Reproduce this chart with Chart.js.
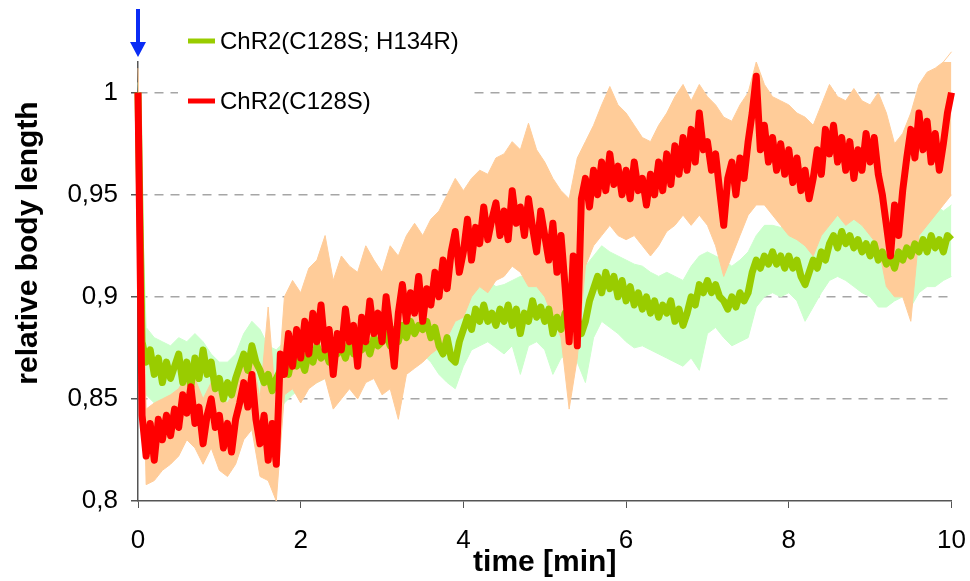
<!DOCTYPE html>
<html>
<head>
<meta charset="utf-8">
<script src="https://cdn.jsdelivr.net/npm/chart.js@4/dist/chart.umd.min.js"></script>
<style>
  html, body { margin: 0; padding: 0; background: #fff; }
  #wrap { width: 970px; height: 581px; }
</style>
</head>
<body>
<div id="wrap"><canvas id="bodyChart" width="970" height="581"></canvas></div>
<script>
const seriesNames = ['ChR2(C128S; H134R)', 'ChR2(C128S)'];
const xTicks = [0, 2, 4, 6, 8, 10];
const yTicks = [0.8, 0.85, 0.9, 0.95, 1];

// mean traces, one value every 0.05 min (0 .. 10)
const redMean = [
  1.0, 0.842, 0.822, 0.838, 0.82, 0.84, 0.83, 0.842, 0.832, 0.845,
  0.836, 0.852, 0.843, 0.856, 0.838, 0.846, 0.828, 0.842, 0.85, 0.836,
  0.842, 0.826, 0.838, 0.824, 0.84, 0.848, 0.858, 0.846, 0.862, 0.84,
  0.828, 0.842, 0.82, 0.838, 0.818, 0.872, 0.862, 0.882, 0.866, 0.884,
  0.87, 0.888, 0.872, 0.892, 0.878, 0.896, 0.874, 0.884, 0.862, 0.882,
  0.874, 0.894, 0.878, 0.886, 0.866, 0.89, 0.878, 0.898, 0.882, 0.892,
  0.878, 0.9, 0.884, 0.866, 0.892, 0.906, 0.888, 0.902, 0.892, 0.91,
  0.888, 0.904, 0.896, 0.912, 0.9, 0.918, 0.904, 0.922, 0.932, 0.912,
  0.922, 0.938, 0.918, 0.934, 0.926, 0.944, 0.928, 0.938, 0.946, 0.93,
  0.942, 0.928, 0.952, 0.936, 0.944, 0.93, 0.948, 0.934, 0.922, 0.942,
  0.93, 0.918, 0.936, 0.912, 0.93, 0.905, 0.878, 0.92, 0.876, 0.948,
  0.958, 0.944, 0.962, 0.95, 0.966, 0.952, 0.97, 0.955, 0.964, 0.95,
  0.962, 0.948, 0.966, 0.952, 0.958, 0.945, 0.96, 0.95, 0.966, 0.952,
  0.97, 0.955, 0.974, 0.96, 0.978, 0.962, 0.982, 0.966, 0.99, 0.972,
  0.976, 0.962, 0.97, 0.952, 0.935, 0.958, 0.966, 0.95, 0.968, 0.958,
  0.976, 0.99, 1.008, 0.972, 0.984, 0.966, 0.978, 0.962, 0.975, 0.96,
  0.972, 0.956, 0.968, 0.952, 0.962, 0.948, 0.958, 0.972, 0.96, 0.982,
  0.97, 0.984, 0.966, 0.978, 0.962, 0.976, 0.958, 0.972, 0.962, 0.98,
  0.966, 0.978, 0.96, 0.95, 0.935, 0.92, 0.945, 0.93, 0.952, 0.968,
  0.982, 0.968, 0.99, 0.972, 0.986, 0.966, 0.98, 0.962, 0.975, 0.99,
  1.0
];
const greenMean = [
  1.0, 0.878, 0.868, 0.874, 0.862, 0.87, 0.858, 0.868, 0.86, 0.866,
  0.872, 0.858, 0.868, 0.856, 0.87, 0.86, 0.874, 0.862, 0.868, 0.855,
  0.86, 0.85, 0.858, 0.852, 0.86, 0.866, 0.872, 0.864, 0.876, 0.868,
  0.864, 0.858, 0.862, 0.854, 0.86, 0.864, 0.868, 0.862, 0.872, 0.866,
  0.87, 0.864, 0.874, 0.868, 0.876, 0.87, 0.874, 0.868, 0.878, 0.872,
  0.876, 0.87, 0.878, 0.872, 0.88, 0.874, 0.878, 0.872, 0.88, 0.876,
  0.878, 0.882, 0.876, 0.884, 0.878, 0.886, 0.88, 0.888, 0.882, 0.886,
  0.884, 0.888, 0.88, 0.885, 0.876, 0.872, 0.88, 0.87, 0.868, 0.878,
  0.884, 0.89, 0.884, 0.894, 0.888, 0.896, 0.888, 0.892, 0.886, 0.894,
  0.888, 0.896, 0.886, 0.894, 0.882, 0.892, 0.888, 0.898, 0.89, 0.895,
  0.888, 0.894, 0.882, 0.89, 0.884, 0.892, 0.886, 0.894, 0.89, 0.882,
  0.888, 0.898, 0.904, 0.91, 0.902, 0.912, 0.904, 0.91, 0.9, 0.908,
  0.898, 0.905, 0.896, 0.902, 0.894, 0.9, 0.892, 0.898, 0.89, 0.896,
  0.892, 0.898, 0.888, 0.894, 0.886, 0.892, 0.9, 0.896, 0.906, 0.902,
  0.908, 0.902, 0.906, 0.9, 0.898, 0.894, 0.9, 0.895, 0.902, 0.898,
  0.902, 0.912, 0.918, 0.914, 0.92, 0.916, 0.922, 0.916, 0.92, 0.914,
  0.92, 0.914, 0.918, 0.91, 0.906, 0.912, 0.918, 0.914, 0.922, 0.918,
  0.926, 0.93, 0.924, 0.932, 0.926, 0.93, 0.924, 0.928, 0.922, 0.926,
  0.92, 0.926, 0.918, 0.922, 0.916, 0.92, 0.914, 0.922, 0.918, 0.924,
  0.92, 0.926, 0.922, 0.928, 0.922, 0.93, 0.924, 0.928, 0.922, 0.93,
  0.928
];

// error bands, one value every 0.1 min (0 .. 10)
const redUpper = [
  1.012, 0.845, 0.848, 0.85, 0.852, 0.855, 0.862, 0.86, 0.85, 0.858,
  0.852, 0.848, 0.855, 0.868, 0.872, 0.85, 0.895, 0.845, 0.9, 0.908,
  0.902, 0.914, 0.918, 0.93, 0.908, 0.92, 0.915, 0.912, 0.925, 0.918,
  0.912, 0.925, 0.92, 0.93, 0.936, 0.93, 0.938, 0.942, 0.95, 0.958,
  0.952, 0.958, 0.962, 0.96, 0.968, 0.97, 0.976, 0.972, 0.985, 0.972,
  0.966, 0.958, 0.952, 0.948, 0.968, 0.976, 0.984, 0.994, 1.003, 0.994,
  0.99, 0.984, 0.978, 0.976, 0.984, 0.99, 0.998, 1.004, 0.996, 1.004,
  0.998, 0.994, 0.988, 0.986, 0.994, 1.0, 1.015, 1.004, 0.998, 0.996,
  0.994, 0.99, 0.988, 0.984, 0.994, 1.004, 0.998, 0.996, 1.002, 0.996,
  0.994, 1.0, 0.99, 0.975, 0.98, 0.99, 1.004, 1.01, 1.012, 1.015,
  1.02
];
const redLower = [
  0.995, 0.808, 0.81, 0.815, 0.818, 0.822, 0.83, 0.826, 0.818, 0.826,
  0.815, 0.812, 0.818, 0.83, 0.835, 0.812, 0.81, 0.8, 0.852, 0.855,
  0.848, 0.855, 0.858, 0.86, 0.845, 0.85, 0.855, 0.85, 0.858, 0.86,
  0.852, 0.855, 0.84, 0.862, 0.865, 0.868, 0.872, 0.875, 0.88, 0.888,
  0.89, 0.9, 0.905, 0.902, 0.908, 0.91, 0.915, 0.912, 0.905, 0.905,
  0.9, 0.89, 0.88, 0.845, 0.87, 0.915, 0.925, 0.93, 0.935, 0.93,
  0.928, 0.93, 0.925, 0.92, 0.925, 0.932, 0.935, 0.94, 0.935, 0.94,
  0.935, 0.925, 0.91, 0.92, 0.93, 0.94, 0.945, 0.945, 0.94, 0.935,
  0.93, 0.928, 0.925, 0.92, 0.93, 0.935, 0.94, 0.935, 0.938, 0.935,
  0.93, 0.925, 0.905, 0.9, 0.9, 0.888, 0.93, 0.935, 0.94, 0.945,
  0.95
];
const greenUpper = [
  1.005, 0.885, 0.88, 0.878, 0.876, 0.88, 0.878, 0.882, 0.878, 0.872,
  0.868, 0.868, 0.872, 0.882, 0.888, 0.884, 0.876, 0.874, 0.878, 0.882,
  0.885, 0.884, 0.886, 0.888, 0.887, 0.889, 0.888, 0.89, 0.892, 0.891,
  0.893, 0.895, 0.896, 0.898, 0.899, 0.9, 0.898, 0.895, 0.89, 0.888,
  0.898, 0.905, 0.906, 0.908, 0.905, 0.906, 0.908, 0.91, 0.91, 0.908,
  0.906, 0.904, 0.905, 0.908, 0.912, 0.915, 0.92, 0.925, 0.922, 0.92,
  0.918, 0.916, 0.915, 0.912, 0.91, 0.912, 0.91, 0.908, 0.915, 0.92,
  0.922, 0.92, 0.918, 0.915, 0.918, 0.922, 0.93, 0.935, 0.935, 0.934,
  0.936, 0.932, 0.928, 0.93, 0.935, 0.94, 0.945, 0.942, 0.94, 0.938,
  0.936, 0.935, 0.932, 0.935, 0.938, 0.94, 0.945, 0.948, 0.945, 0.942,
  0.945
];
const greenLower = [
  0.99, 0.852, 0.848, 0.845, 0.844, 0.848, 0.846, 0.848, 0.85, 0.842,
  0.84, 0.838, 0.842, 0.85, 0.855, 0.852, 0.845, 0.842, 0.848, 0.852,
  0.855, 0.856, 0.858, 0.86, 0.86, 0.862, 0.862, 0.863, 0.864, 0.864,
  0.865, 0.866, 0.868, 0.87, 0.871, 0.872, 0.868, 0.862, 0.858, 0.855,
  0.866, 0.874, 0.876, 0.878, 0.875, 0.872, 0.876, 0.862, 0.876, 0.878,
  0.874, 0.862, 0.87, 0.872, 0.868, 0.858, 0.88, 0.888, 0.885, 0.882,
  0.878, 0.875, 0.876, 0.874, 0.872, 0.87, 0.868, 0.866, 0.87, 0.864,
  0.882, 0.885, 0.88, 0.876, 0.878, 0.88, 0.895, 0.9, 0.902, 0.9,
  0.902, 0.898, 0.888, 0.895, 0.902, 0.908, 0.91, 0.908, 0.905, 0.902,
  0.9, 0.895, 0.895, 0.898, 0.9, 0.895, 0.902, 0.905, 0.905, 0.908,
  0.91
];

const meanTimes = redMean.map((_, i) => i * 0.05);
const bandTimes = redUpper.map((_, i) => i * 0.1);
const toPoints = (ts, ys) => ys.map((y, i) => ({ x: ts[i], y: y }));

const FONT = 'Liberation Sans, Arial, sans-serif';

const decorations = {
  id: 'decorations',
  afterDraw(chart) {
    const ctx = chart.ctx;
    const area = chart.chartArea;
    const x0 = chart.scales.x.getPixelForValue(0);
    ctx.save();

    // stimulus arrow
    ctx.fillStyle = '#0a2cf5';
    ctx.fillRect(x0 - 2, 9, 4, 34);
    ctx.beginPath();
    ctx.moveTo(x0 - 8, 42);
    ctx.lineTo(x0 + 8, 42);
    ctx.lineTo(x0, 57);
    ctx.closePath();
    ctx.fill();

    // legend
    ctx.fillStyle = '#fff';
    ctx.fillRect(178, 22, 296, 96);
    const colors = ['#99cc00', '#ff0000'];
    const rows = [41, 101];
    ctx.font = '24px ' + FONT;
    ctx.textBaseline = 'middle';
    ctx.textAlign = 'left';
    seriesNames.forEach((name, i) => {
      ctx.strokeStyle = colors[i];
      ctx.lineWidth = 5;
      ctx.beginPath();
      ctx.moveTo(188, rows[i]);
      ctx.lineTo(215, rows[i]);
      ctx.stroke();
      ctx.fillStyle = '#000';
      ctx.fillText(name, 220, rows[i] + 1);
    });

    // axis titles
    ctx.font = 'bold 30px ' + FONT;
    ctx.textAlign = 'center';
    ctx.fillText('time [min]', (area.left + area.right) / 2, 563);
    ctx.translate(29, 243);
    ctx.rotate(-Math.PI / 2);
    ctx.fillText('relative body length', 0, 0);
    ctx.restore();
  }
};

new Chart(document.getElementById('bodyChart'), {
  type: 'line',
  data: {
    datasets: [
      {
        label: seriesNames[1],
        data: toPoints(meanTimes, redMean),
        borderColor: '#ff0000',
        borderWidth: 7,
        borderJoinStyle: 'round',
        pointRadius: 0,
        fill: false,
        clip: false
      },
      {
        label: seriesNames[0],
        data: toPoints(meanTimes, greenMean),
        borderColor: '#99cc00',
        borderWidth: 7,
        borderJoinStyle: 'round',
        pointRadius: 0,
        fill: false,
        clip: false
      },
      {
        label: 'upper C128S',
        data: toPoints(bandTimes, redUpper),
        borderColor: '#ffcc99',
        backgroundColor: '#ffcc99',
        borderWidth: 1,
        pointRadius: 0,
        fill: '+1',
        clip: false
      },
      {
        label: 'lower C128S',
        data: toPoints(bandTimes, redLower),
        borderColor: '#ffcc99',
        borderWidth: 1,
        pointRadius: 0,
        fill: false,
        clip: false
      },
      {
        label: 'upper C128S; H134R',
        data: toPoints(bandTimes, greenUpper),
        borderColor: '#ccffcc',
        backgroundColor: '#ccffcc',
        borderWidth: 1,
        pointRadius: 0,
        fill: '+1',
        clip: false
      },
      {
        label: 'lower C128S; H134R',
        data: toPoints(bandTimes, greenLower),
        borderColor: '#ccffcc',
        borderWidth: 1,
        pointRadius: 0,
        fill: false,
        clip: false
      }
    ]
  },
  options: {
    responsive: false,
    animation: false,
    layout: { padding: { left: 0, right: 18.5, top: 62, bottom: 0 } },
    plugins: {
      legend: { display: false },
      tooltip: { enabled: false }
    },
    scales: {
      x: {
        type: 'linear',
        min: 0,
        max: 10,
        afterBuildTicks: s => { s.ticks = xTicks.map(v => ({ value: v })); },
        afterFit: s => {
          s.height = 80;
          s.paddingLeft = 0;
          s.paddingRight = 0;
        },
        ticks: {
          autoSkip: false,
          maxRotation: 0,
          padding: 17,
          color: '#000',
          font: { family: FONT, size: 26 }
        },
        grid: {
          drawOnChartArea: false,
          drawTicks: true,
          tickLength: 7,
          tickColor: '#555'
        },
        border: { color: '#555', width: 1.5 }
      },
      y: {
        min: 0.8,
        max: 1.015,
        afterBuildTicks: s => { s.ticks = yTicks.map(v => ({ value: v })); },
        afterFit: s => {
          s.width = 138;
          s.paddingTop = 0;
          s.paddingBottom = 0;
        },
        ticks: {
          padding: 13,
          color: '#000',
          font: { family: FONT, size: 26 },
          callback: v => String(v).replace('.', ',')
        },
        grid: {
          color: c => (c.tick && c.tick.value === yTicks[0]) ? 'rgba(0,0,0,0)' : '#a6a6a6',
          lineWidth: 1.5,
          tickLength: 7,
          tickColor: '#555',
          tickWidth: 1.5
        },
        border: { color: '#555', width: 1.5, dash: [9, 7] }
      }
    }
  },
  plugins: [decorations]
});
</script>
</body>
</html>
